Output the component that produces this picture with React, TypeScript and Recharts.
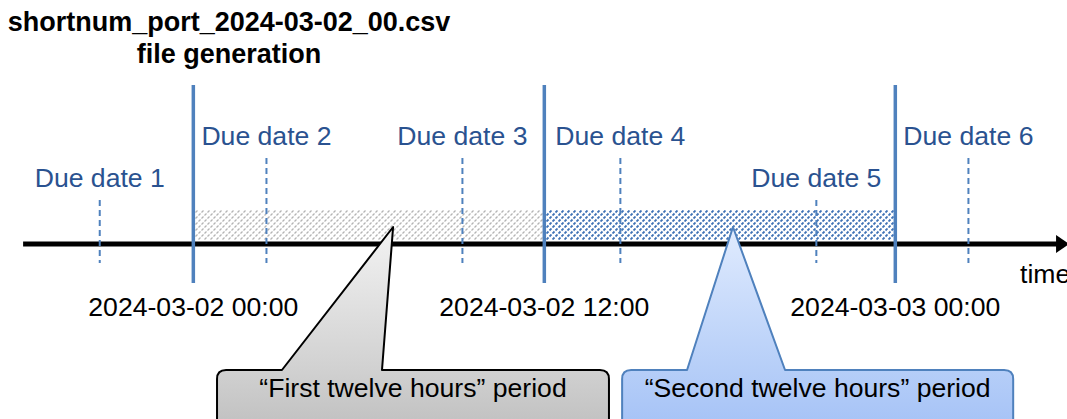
import React from "react"
import {
  ComposedChart,
  ReferenceArea,
  ReferenceLine,
  XAxis,
  YAxis
} from "recharts"

// hours relative to 2024-03-02 00:00
const dueDateNames = [
  "Due date 1",
  "Due date 2",
  "Due date 3",
  "Due date 4",
  "Due date 5",
  "Due date 6"
]
const dueDateHours = [-3.2, 2.5, 9.2, 14.6, 21.3, 26.5]

const boundaryHours = [0, 12, 24]
const boundaryLabels = [
  "2024-03-02 00:00",
  "2024-03-02 12:00",
  "2024-03-03 00:00"
]

const periodNames = [
  "\u201cFirst twelve hours\u201d period",
  "\u201cSecond twelve hours\u201d period"
]
const periodStarts = [0, 12]
const periodEnds = [12, 24]

const titleLines = ["shortnum_port_2024-03-02_00.csv", "file generation"]
const axisTitle = "time"

// layout (not data)
const W = 1067
const H = 419
const X_DOMAIN: [number, number] = [-6.61, 29.87]
const AXIS_START = -5.82
const AXIS_END = 29.53
const AXIS_Y = 244
const DUE_TOP = [200, 158, 158, 158, 200, 158]
const DUE_BOTTOM = 263
const BOUND_TOP = 85
const BOUND_BOTTOM = 283
const HATCH_TOP = 210
const HATCH_BOTTOM = 240
const TIP_Y = 227
const BOX_TOP = 370
const BOX_BOTTOM = 440
const BOX_TEXT_Y = 397
const callouts = [
  { x1: 0.81, x2: 14.21, baseL: 3.03, baseR: 6.45, tip: 6.83 },
  { x1: 14.66, x2: 28.03, baseL: 16.88, baseR: 20.23, tip: 18.45 }
]
const calloutFill = ["url(#calloutGray)", "url(#calloutBlue)"]
const calloutStroke = ["#000000", "#4f81bd"]
const hatchFill = ["url(#hatchGray)", "url(#hatchBlue)"]

const FONT = "'Liberation Sans', Arial, sans-serif"
const FS = 26.6
const BLUE = "#4f81bd"
const LABEL_BLUE = "#2a5290"

function AxisShape(props: any) {
  const { x, y, width, height } = props
  const cy = y + height / 2
  const right = x + width
  return (
    <g>
      <rect x={x} y={y} width={width} height={height} fill="#000" />
      <path
        d={`M${right - 1},${cy - 9} L${right + 12},${cy} L${right - 1},${cy + 9} Z`}
        fill="#000"
      />
      <text
        x={right - 37}
        y={cy + 39}
        fontFamily={FONT}
        fontSize={FS}
        fill="#000">
        {axisTitle}
      </text>
    </g>
  )
}

function CalloutShape(props: any) {
  const { x, y, width, height, spec, fill, stroke, text } = props
  const sx = (h: number) => x + ((h - spec.x1) / (spec.x2 - spec.x1)) * width
  const sy = (v: number) => y + ((v - TIP_Y) / (BOX_BOTTOM - TIP_Y)) * height
  const left = x
  const right = x + width
  const top = sy(BOX_TOP)
  const bottom = y + height
  const r = 9
  const d = [
    `M${left + r},${top}`,
    `L${sx(spec.baseL)},${top}`,
    `L${sx(spec.tip)},${y}`,
    `L${sx(spec.baseR)},${top}`,
    `L${right - r},${top}`,
    `Q${right},${top} ${right},${top + r}`,
    `L${right},${bottom}`,
    `L${left},${bottom}`,
    `L${left},${top + r}`,
    `Q${left},${top} ${left + r},${top}`,
    "Z"
  ].join(" ")
  return (
    <g>
      <path
        d={d}
        fill={fill}
        stroke={stroke}
        strokeWidth={2}
        strokeLinejoin="round"
      />
      <text
        x={(left + right) / 2}
        y={sy(BOX_TEXT_Y)}
        textAnchor="middle"
        fontFamily={FONT}
        fontSize={FS}
        fill="#000">
        {text}
      </text>
    </g>
  )
}

export default function App() {
  return (
    <div style={{ position: "absolute", left: 0, top: 0, width: W, height: H, background: "#fff" }}>
      <ComposedChart
        width={W}
        height={H}
        data={[]}
        margin={{ top: 0, right: 0, bottom: 0, left: 0 }}>
        <defs>
          <pattern
            id="hatchGray"
            width={6}
            height={6}
            patternUnits="userSpaceOnUse">
            <path
              d="M0.5,5.5 L2.5,3.5 M3.5,2.5 L5.5,0.5"
              stroke="#b4b4b4"
              strokeWidth={1.3}
            />
          </pattern>
          <pattern
            id="hatchBlue"
            width={6}
            height={6}
            patternUnits="userSpaceOnUse">
            <path
              d="M0.5,5.5 L2.5,3.5 M3.5,2.5 L5.5,0.5"
              stroke="#3f72b5"
              strokeWidth={1.8}
            />
          </pattern>
          <linearGradient id="calloutGray" x1="0" y1="0" x2="0" y2="1">
            <stop offset="0" stopColor="#f3f3f3" />
            <stop offset="0.65" stopColor="#d2d2d2" />
            <stop offset="1" stopColor="#bdbdbd" />
          </linearGradient>
          <linearGradient id="calloutBlue" x1="0" y1="0" x2="0" y2="1">
            <stop offset="0" stopColor="#e0ebfe" />
            <stop offset="0.65" stopColor="#b7cff8" />
            <stop offset="1" stopColor="#a2c0f6" />
          </linearGradient>
        </defs>
        <XAxis
          type="number"
          dataKey="hour"
          domain={X_DOMAIN}
          allowDataOverflow
          hide
        />
        <YAxis type="number" domain={[0, H]} reversed allowDataOverflow hide />

        {periodStarts.map((s, i) => (
          <ReferenceArea
            key={`hatch-${i}`}
            x1={s}
            x2={periodEnds[i]}
            y1={HATCH_TOP}
            y2={HATCH_BOTTOM}
            fill={hatchFill[i]}
            fillOpacity={1}
            stroke="none"
            ifOverflow="visible"
          />
        ))}

        <ReferenceArea
          x1={AXIS_START}
          x2={AXIS_END}
          y1={AXIS_Y - 2.5}
          y2={AXIS_Y + 2.5}
          ifOverflow="visible"
          shape={(p: any) => <AxisShape {...p} />}
        />

        {dueDateHours.map((h, i) => (
          <ReferenceLine
            key={`due-${i}`}
            segment={[
              { x: h, y: DUE_TOP[i] },
              { x: h, y: DUE_BOTTOM }
            ]}
            stroke={BLUE}
            strokeWidth={2}
            strokeDasharray="6 4"
            ifOverflow="visible"
            label={(p: any) => {
              const vb = p.viewBox || {}
              return (
                <text
                  x={vb.x + (vb.width || 0) / 2}
                  y={vb.y - 13}
                  textAnchor="middle"
                  fontFamily={FONT}
                  fontSize={FS}
                  fill={LABEL_BLUE}>
                  {dueDateNames[i]}
                </text>
              )
            }}
          />
        ))}

        {boundaryHours.map((h, i) => (
          <ReferenceLine
            key={`bound-${i}`}
            segment={[
              { x: h, y: BOUND_TOP },
              { x: h, y: BOUND_BOTTOM }
            ]}
            stroke={BLUE}
            strokeWidth={3.5}
            ifOverflow="visible"
            label={(p: any) => {
              const vb = p.viewBox || {}
              return (
                <text
                  x={vb.x + (vb.width || 0) / 2}
                  y={vb.y + (vb.height || 0) + 33}
                  textAnchor="middle"
                  fontFamily={FONT}
                  fontSize={FS}
                  fill="#000">
                  {boundaryLabels[i]}
                </text>
              )
            }}
          />
        ))}

        {callouts.map((c, i) => (
          <ReferenceArea
            key={`callout-${i}`}
            x1={c.x1}
            x2={c.x2}
            y1={TIP_Y}
            y2={BOX_BOTTOM}
            ifOverflow="visible"
            shape={(p: any) => (
              <CalloutShape
                {...p}
                spec={c}
                fill={calloutFill[i]}
                stroke={calloutStroke[i]}
                text={periodNames[i]}
              />
            )}
          />
        ))}
      </ComposedChart>
      <div
        style={{
          position: "absolute",
          left: 0,
          top: 6,
          width: 458,
          textAlign: "center",
          fontFamily: FONT,
          fontWeight: "bold",
          fontSize: 27,
          lineHeight: "32px",
          color: "#000"
        }}>
        {titleLines.map((t) => (
          <div key={t}>{t}</div>
        ))}
      </div>
    </div>
  )
}
